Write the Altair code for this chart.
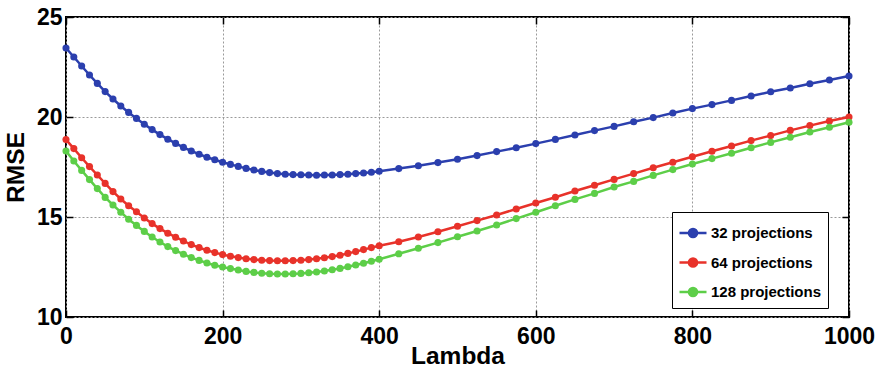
import altair as alt
import pandas as pd

# Regularisation weight (finer sampling below 400)
lam = [0, 10, 20, 30, 40, 50, 60, 70, 80, 90,
       100, 110, 120, 130, 140, 150, 160, 170, 180, 190,
       200, 210, 220, 230, 240, 250, 260, 270, 280, 290,
       300, 310, 320, 330, 340, 350, 360, 370, 380, 390,
       400, 425, 450, 475, 500, 525, 550, 575, 600, 625,
       650, 675, 700, 725, 750, 775, 800, 825, 850, 875,
       900, 925, 950, 975, 1000]

rmse_32 = [23.45, 23.00, 22.55, 22.10, 21.68, 21.27, 20.90, 20.55, 20.23, 19.93,
           19.64, 19.37, 19.12, 18.89, 18.68, 18.48, 18.30, 18.14, 17.99, 17.86,
           17.74, 17.63, 17.53, 17.43, 17.35, 17.28, 17.22, 17.17, 17.14, 17.12,
           17.11, 17.10, 17.09, 17.10, 17.10, 17.12, 17.14, 17.17, 17.20, 17.24,
           17.29, 17.42, 17.56, 17.72, 17.89, 18.07, 18.27, 18.46, 18.67, 18.88,
           19.10, 19.32, 19.53, 19.76, 19.97, 20.20, 20.42, 20.62, 20.83, 21.05,
           21.26, 21.45, 21.66, 21.85, 22.05]

rmse_64 = [18.87, 18.42, 17.96, 17.52, 17.10, 16.68, 16.27, 15.90, 15.56, 15.26,
           14.95, 14.67, 14.42, 14.19, 13.99, 13.80, 13.62, 13.47, 13.34, 13.22,
           13.12, 13.04, 12.97, 12.91, 12.87, 12.84, 12.82, 12.81, 12.81, 12.82,
           12.84, 12.87, 12.91, 12.96, 13.02, 13.09, 13.18, 13.27, 13.37, 13.47,
           13.56, 13.76, 14.00, 14.26, 14.54, 14.82, 15.10, 15.40, 15.70, 15.99,
           16.30, 16.59, 16.88, 17.17, 17.46, 17.74, 18.01, 18.29, 18.55, 18.82,
           19.07, 19.33, 19.57, 19.80, 20.00]

rmse_128 = [18.30, 17.80, 17.33, 16.87, 16.42, 15.98, 15.60, 15.24, 14.89, 14.58,
            14.28, 14.00, 13.75, 13.52, 13.32, 13.14, 12.97, 12.83, 12.70, 12.59,
            12.50, 12.42, 12.35, 12.28, 12.23, 12.19, 12.16, 12.15, 12.15, 12.16,
            12.18, 12.21, 12.25, 12.30, 12.36, 12.43, 12.51, 12.60, 12.69, 12.79,
            12.89, 13.16, 13.44, 13.72, 14.01, 14.30, 14.60, 14.92, 15.24, 15.56,
            15.88, 16.18, 16.50, 16.78, 17.08, 17.37, 17.65, 17.92, 18.19, 18.46,
            18.73, 18.99, 19.25, 19.49, 19.74]

series_names = ["32 projections", "64 projections", "128 projections"]
series_colors = ["#2b3fae", "#e8322a", "#5dce48"]
x_ticks = [0, 200, 400, 600, 800, 1000]
y_ticks = [10, 15, 20, 25]

rows = []
for name, vals in zip(series_names, [rmse_32, rmse_64, rmse_128]):
    for l, v in zip(lam, vals):
        rows.append({"Lambda": l, "RMSE": v, "series": name})
df = pd.DataFrame(rows)

FONT = "Liberation Sans"
INWARD = {"expr": "-7"}

x_scale = alt.Scale(domain=[0, 1000], nice=False, zero=False)
y_scale = alt.Scale(domain=[10, 25], nice=False, zero=False)

# legend glyph: short line segment with a dot in the middle
marker_path = "M-1,0L1,0M0.3,0A0.3,0.3,0,1,1,-0.3,0A0.3,0.3,0,1,1,0.3,0Z"

color = alt.Color(
    "series:N",
    scale=alt.Scale(domain=series_names, range=series_colors),
    sort=series_names,
    legend=alt.Legend(
        title=None,
        orient="none",
        legendX=606,
        legendY=195,
        direction="vertical",
        labelFont=FONT,
        labelFontSize=15,
        labelFontWeight="bold",
        labelColor="black",
        labelOffset=3,
        symbolType=marker_path,
        symbolSize=729,
        symbolStrokeWidth=2.5,
        symbolOpacity=1,
        rowPadding=4.5,
        padding=6,
        strokeColor="black",
        fillColor="white",
    ),
)

grid_style = dict(grid=True, gridColor="#9a9a9a", gridDash=[2, 2], gridWidth=1)
label_style = dict(labelFont=FONT, labelFontSize=23, labelFontWeight="bold",
                   labelColor="black", labelFlush=False, labelOverlap=False)
title_style = dict(titleFont=FONT, titleFontSize=24.5, titleFontWeight="bold",
                   titleColor="black")

base = alt.Chart(df)

lines = base.mark_line(strokeWidth=2.5).encode(
    x=alt.X("Lambda:Q", scale=x_scale,
            axis=alt.Axis(orient="bottom", values=x_ticks, format="d",
                          title="Lambda", domain=False,
                          tickSize=INWARD, tickWidth=1.5, tickColor="black",
                          labelPadding=15,
                          titleX=391.5, titleY=46, titleBaseline="alphabetic",
                          titleAlign="center",
                          **grid_style, **label_style, **title_style)),
    y=alt.Y("RMSE:Q", scale=y_scale,
            axis=alt.Axis(orient="left", values=y_ticks, format="d",
                          title="RMSE", domain=False,
                          tickSize=INWARD, tickWidth=1.5, tickColor="black",
                          labelPadding=11, labelBaseline="middle",
                          titleX=-50, titleY=150, titleAngle=-90,
                          titleBaseline="middle", titleAlign="center",
                          **grid_style, **label_style, **title_style)),
    color=color,
)

points = base.mark_point(filled=True, size=50, opacity=1).encode(
    x=alt.X("Lambda:Q", scale=x_scale,
            axis=alt.Axis(orient="top", values=x_ticks, labels=False,
                          title=None, domain=False, grid=False,
                          tickSize=INWARD, tickWidth=1.5, tickColor="black")),
    y=alt.Y("RMSE:Q", scale=y_scale,
            axis=alt.Axis(orient="right", values=y_ticks, labels=False,
                          title=None, domain=False, grid=False,
                          tickSize=INWARD, tickWidth=1.5, tickColor="black")),
    color=color,
)

chart = (
    alt.layer(lines, points)
    .resolve_axis(x="independent", y="independent")
    .properties(
        width=783,
        height=300,
        padding={"left": 66, "top": 17, "right": 32, "bottom": 54},
        autosize=alt.AutoSizeParams(type="none"),
        background="white",
    )
    .configure_view(stroke="black", strokeWidth=2)
)

chart.save("out.html", embed_options={"renderer": "svg", "actions": False})
